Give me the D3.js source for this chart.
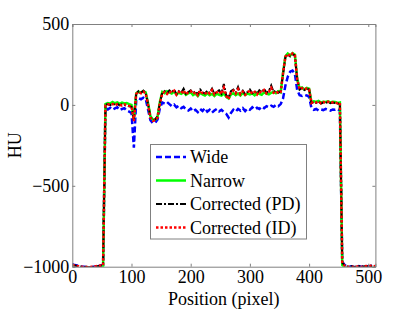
<!DOCTYPE html>
<html>
<head>
<meta charset="utf-8">
<script src="https://cdn.jsdelivr.net/npm/d3@7"></script>
<style>
  body { margin: 0; background: #fff; }
  svg text { font-family: "Liberation Serif", "Times New Roman", Times, "DejaVu Serif", serif !important; }
</style>
</head>
<body>
<svg id="chart"></svg>
<script>
// sample positions along the profile (pixel)
const positions = [0,4,8,12,16,20,24,28,32,36,40,44,48,52,56,60,64,68,72,76,80,84,88,92,96,100,
  104,108,112,116,120,124,128,132,136,140,144,148,152,156,160,164,168,172,176,180,184,188,192,196,200,
  204,208,212,216,220,224,228,232,236,240,244,248,252,256,260,264,268,272,276,280,284,288,292,296,300,
  304,308,312,316,320,324,328,332,336,340,344,348,352,356,360,364,368,372,376,380,384,388,392,396,400,
  404,408,412,416,420,424,428,432,436,440,444,448,452,456,460,464,468,472,476,480,484,488,492,496,500,
  504,508,512];

const wide = [-985,-990,-993,-996,-999,-1001,-1003,-1002,-1004,-1000,-999,-996,-993,-990,
  -20,-28,-18,-30,-22,-15,-32,-25,-20,-35,-42,-50,
  -265,
  30,42,35,45,38,
  -30,-95,-112,-110,-90,-20,
  15,8,18,5,-8,2,-15,-5,-20,-12,-28,-35,-22,-40,-30,-45,-25,-38,-20,-42,-30,-48,-35,-25,-40,-30,-45,-55,-78,-50,
  -30,-42,-25,-35,-20,-38,-22,-30,-15,-28,-18,-25,-10,-20,-8,-15,-5,-12,0,-8,5,
  40,120,175,205,212,190,90,60,55,62,58,50,
  -20,-30,-25,-35,-28,-32,-25,-30,-35,-28,-30,-25,-35,
  -970,-990,-995,-1000,-998,-1003,-1000,-996,-1001,-997,-994,-998,-995,-993,-995];

const narrow = [-1005,-1008,-1010,-1012,-1012,-1013,-1014,-1012,-1013,-1011,-1010,-1009,-1008,-1005,
  5,12,8,18,10,15,6,14,9,12,5,0,
  -85,
  72,82,76,85,78,
  10,-70,-90,-92,-75,20,
  80,72,85,78,70,82,65,75,68,80,62,72,78,60,70,55,75,65,58,72,60,68,55,70,62,58,72,50,40,65,
  72,60,70,58,75,62,70,65,72,60,75,68,62,78,70,65,75,80,72,85,78,
  200,300,318,305,320,310,160,100,108,95,105,100,
  15,22,18,25,15,20,18,22,15,20,18,12,15,
  -990,-1005,-1010,-1012,-1008,-1013,-1010,-1008,-1012,-1009,-1006,-1010,-1007,-1008,-1006];

const correctedPD = [-990,-993,-996,-998,-1000,-1002,-1001,-1003,-1000,-1002,-998,-996,-994,-990,
  0,5,-2,8,2,6,-3,4,0,-5,-8,-12,
  -90,
  70,85,75,88,72,
  5,-75,-95,-90,-70,15,
  75,85,70,90,78,95,65,85,75,100,68,80,90,72,85,65,95,78,70,88,75,100,68,82,90,70,130,60,45,85,
  95,75,110,70,88,65,80,95,72,85,68,90,78,100,75,85,120,80,90,75,85,
  190,295,312,300,315,305,150,95,105,92,100,95,
  10,18,12,20,8,15,12,18,10,15,12,8,10,
  -975,-992,-997,-1000,-998,-1002,-999,-996,-1000,-998,-995,-997,-994,-996,-995];

const correctedID = [-988,-992,-995,-999,-1001,-1003,-1002,-1004,-1001,-1000,-997,-995,-993,-992,
  -2,4,0,6,-3,5,2,-4,3,-2,-6,-10,
  -100,
  68,80,72,82,70,
  0,-80,-98,-95,-78,10,
  72,80,68,85,74,88,62,80,70,90,65,78,85,68,80,60,88,72,66,82,70,92,64,78,85,66,105,55,35,80,
  88,70,98,66,82,62,76,90,68,80,64,85,74,92,70,80,105,76,85,72,80,
  195,298,315,302,318,308,155,98,104,94,102,96,
  12,20,15,22,10,18,14,20,12,16,14,10,12,
  -978,-994,-999,-1002,-999,-1004,-1000,-997,-1002,-999,-996,-999,-995,-997,-996];

const seriesNames = ["Wide", "Narrow", "Corrected (PD)", "Corrected (ID)"];
const xTicks = [0, 100, 200, 300, 400, 500];
const yTicks = [-1000, -500, 0, 500];

const styles = [
  {color: "#0000ff", width: 2.5, dash: "6,3"},
  {color: "#00ff00", width: 2.5, dash: null},
  {color: "#000000", width: 2, dash: "6,2,2,2"},
  {color: "#ff0000", width: 2.5, dash: "2.5,2"}
];
const allSeries = [wide, narrow, correctedPD, correctedID];

const serif = "'Liberation Serif', 'Times New Roman', Times, serif";
const W = 415, H = 312;
const margin = {top: 24, right: 39.6, bottom: 45.3, left: 72.3};
const width = W - margin.left - margin.right;
const height = H - margin.top - margin.bottom;

const svg = d3.select("#chart").attr("width", W).attr("height", H);
const g = svg.append("g").attr("transform", `translate(${margin.left},${margin.top})`);

const x = d3.scaleLinear().domain([0, 512]).range([0, width]);
const y = d3.scaleLinear().domain([-1000, 500]).range([height, 0]);

g.append("clipPath").attr("id", "clip")
  .append("rect").attr("width", width).attr("height", height);

const line = d3.line()
  .x((d, i) => x(positions[i]))
  .y(d => y(d));

const plot = g.append("g").attr("clip-path", "url(#clip)");
allSeries.forEach((s, k) => {
  plot.append("path")
    .datum(s)
    .attr("fill", "none")
    .attr("stroke", styles[k].color)
    .attr("stroke-width", styles[k].width)
    .attr("stroke-dasharray", styles[k].dash)
    .attr("d", line);
});

// frame + ticks
const axisColor = "#808080";
const fmt = d3.format("d");
g.append("g").attr("transform", `translate(0,${height})`)
  .call(d3.axisBottom(x).tickValues(xTicks).tickSize(-3).tickPadding(4).tickFormat(fmt));
g.append("g")
  .call(d3.axisTop(x).tickValues(xTicks).tickSize(-3).tickFormat(""));
g.append("g")
  .call(d3.axisLeft(y).tickValues(yTicks).tickSize(-3).tickPadding(3).tickFormat(fmt));
g.append("g").attr("transform", `translate(${width},0)`)
  .call(d3.axisRight(y).tickValues(yTicks).tickSize(-3).tickFormat(""));

g.selectAll("g").attr("font-family", serif);
g.selectAll(".domain, .tick line").attr("stroke", axisColor);
g.selectAll(".tick text").attr("font-size", 18).attr("fill", "#000")
  .attr("font-family", serif);

// axis labels
svg.append("text")
  .attr("x", margin.left + width / 2).attr("y", 305)
  .attr("text-anchor", "middle").attr("font-size", 18).attr("font-family", serif)
  .text("Position (pixel)");
svg.append("text")
  .attr("transform", `translate(21,${margin.top + height / 2}) rotate(-90)`)
  .attr("text-anchor", "middle").attr("font-size", 18).attr("font-family", serif)
  .text("HU");

// legend
const lg = svg.append("g");
lg.append("rect")
  .attr("x", 150.5).attr("y", 144.5).attr("width", 156).attr("height", 94.5)
  .attr("fill", "#fff").attr("stroke", axisColor).attr("stroke-width", 1);
seriesNames.forEach((name, k) => {
  const cy = 157 + k * 23.5;
  lg.append("line")
    .attr("x1", 156).attr("x2", 186).attr("y1", cy).attr("y2", cy)
    .attr("stroke", styles[k].color).attr("stroke-width", styles[k].width)
    .attr("stroke-dasharray", styles[k].dash);
  lg.append("text")
    .attr("x", 190).attr("y", cy + 6).attr("font-size", 18).attr("font-family", serif)
    .text(name);
});
</script>
</body>
</html>
